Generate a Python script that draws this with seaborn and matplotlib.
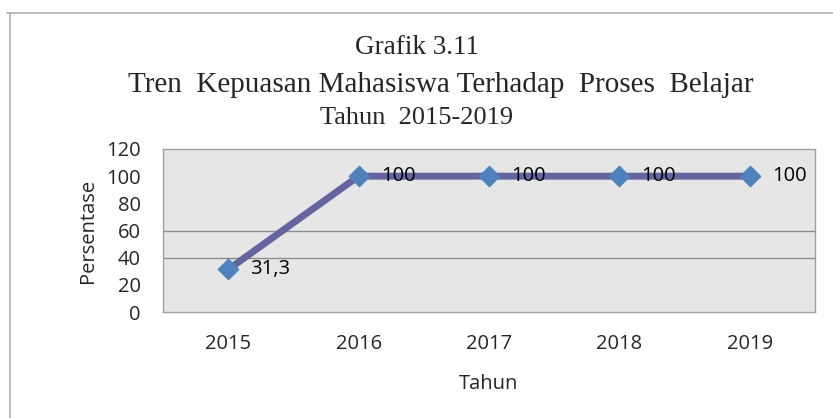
import matplotlib
matplotlib.use('Agg')
import matplotlib.pyplot as plt
import seaborn as sns
import pandas as pd
from matplotlib.lines import Line2D

# data
tahun = ['2015', '2016', '2017', '2018', '2019']
persentase = [31.3, 100, 100, 100, 100]
label_nilai = ['31,3', '100', '100', '100', '100']
y_ticks = [0, 20, 40, 60, 80, 100, 120]

judul = ['Grafik 3.11',
         'Tren  Kepuasan Mahasiswa Terhadap  Proses  Belajar',
         'Tahun  2015-2019']

df = pd.DataFrame({'Tahun': tahun, 'Persentase': persentase})

sns.set_theme(style='white')
plt.rcParams['font.family'] = ['Open Sans', 'DejaVu Sans']

W, H = 833, 418
fig = plt.figure(figsize=(W / 100, H / 100), dpi=100)
ax = fig.add_axes([163 / W, 1 - 312 / H, (815 - 163) / W, (312 - 149) / H])
ax.set_facecolor('#E6E6E6')

# gridlines seen in the reference
for g in [40, 60]:
    ax.axhline(g, color='#8C8C8C', linewidth=1, zorder=1)

sns.lineplot(data=df, x='Tahun', y='Persentase', ax=ax, color='#64649E',
             linewidth=5, sort=False, zorder=2)
sns.scatterplot(data=df, x='Tahun', y='Persentase', ax=ax, marker='D', s=110,
                color='#4F81BD', edgecolor='#4F81BD', zorder=3)

for i, (v, lab) in enumerate(zip(persentase, label_nilai)):
    ax.annotate(lab, (i, v), xytext=(16, 0), textcoords='offset points',
                va='center', ha='left', fontsize=14.5, color='black', zorder=4)

ax.set_xlim(-0.5, len(tahun) - 0.5)
ax.set_ylim(0, 120)
ax.set_yticks(y_ticks)
ax.tick_params(axis='both', labelsize=14.5, length=0)
ax.tick_params(axis='x', pad=16)
ax.tick_params(axis='y', pad=16)

for s in ax.spines.values():
    s.set_color('#A0A0A0')
    s.set_linewidth(1)

ax.set_xlabel('Tahun', fontsize=14.5, labelpad=14)
ax.set_ylabel('Persentase', fontsize=14.5, labelpad=6)

# title, three centred lines
judul_x = [417, 441, 417]
judul_y = [47, 85, 118]
judul_size = [19.5, 21, 19]
for t, jx, jy, fs in zip(judul, judul_x, judul_y, judul_size):
    fig.text(jx / W, 1 - jy / H, t, ha='center', va='center', fontsize=fs,
             family='Liberation Serif')

# outer frame (left and top only visible)
fig.add_artist(Line2D([10 / W, 10 / W], [0, 1 - 13 / H], color='#B0B0B0', linewidth=1.2))
fig.add_artist(Line2D([7 / W, 1], [1 - 13 / H, 1 - 13 / H], color='#B0B0B0', linewidth=1.2))

fig.savefig('out.png', dpi=100)
